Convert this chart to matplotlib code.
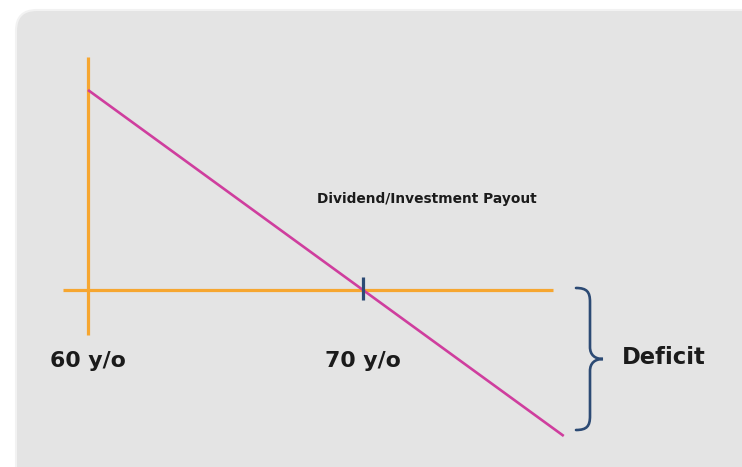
import matplotlib
matplotlib.use("Agg")
import matplotlib.pyplot as plt
from matplotlib.patches import FancyBboxPatch, PathPatch
from matplotlib.path import Path

# Retirement income sketch: payout falls from age 60 and turns into a deficit after 70
milestone_ages = [60, 70]
milestone_labels = ["60 y/o", "70 y/o"]
payout_ages = [60, 77.3]
payout_values = [10.0, -7.3]
baseline_ages = [59.1, 76.9]
vertical_axis_values = [11.65, -2.25]
deficit_range = [0.1, -7.0]

ORANGE = "#f6a630"
MAGENTA = "#cf3e9e"
NAVY = "#2c4a74"
PANEL = "#e4e4e4"
INK = "#1b1b1b"

W, H = 742, 467
fig = plt.figure(figsize=(W / 100, H / 100), dpi=100)
fig.patch.set_facecolor("white")
ax = fig.add_axes([0, 0, 1, 1])
ax.set_axis_off()

# data <-> pixel scale: 27.5 px per year, 20 px per payout unit
PX_YEAR, PX_UNIT = 27.5, 20.0
X0, YTOP = 56.8, 14.5
ax.set_xlim(X0, X0 + W / PX_YEAR)
ax.set_ylim(YTOP - H / PX_UNIT, YTOP)


def to_data(px, py):
    return X0 + px / PX_YEAR, YTOP - py / PX_UNIT


# rounded grey panel
px0, py0 = to_data(16, 10)
px1, py1 = to_data(W + 40, H + 40)
panel = FancyBboxPatch((px0, py1), px1 - px0, py0 - py1,
                       boxstyle="round,pad=0,rounding_size=0.75",
                       mutation_aspect=PX_YEAR / PX_UNIT,
                       facecolor=PANEL, edgecolor="#f2f2f2", linewidth=1.5,
                       zorder=0)
ax.add_patch(panel)

# orange axes
ax.plot([milestone_ages[0], milestone_ages[0]], vertical_axis_values,
        color=ORANGE, lw=2.3, solid_capstyle="butt", zorder=2)
ax.plot(baseline_ages, [0, 0], color=ORANGE, lw=2.3,
        solid_capstyle="butt", zorder=2)

# payout line
ax.plot(payout_ages, payout_values, color=MAGENTA, lw=1.9,
        solid_capstyle="butt", zorder=3)

# tick at age 70
ax.plot([milestone_ages[1], milestone_ages[1]], [0.65, -0.5],
        color=NAVY, lw=2.3, solid_capstyle="butt", zorder=4)

# age labels
for age, lab in zip(milestone_ages, milestone_labels):
    ax.text(age, to_data(0, 361)[1], lab, ha="center", va="center",
            fontsize=15.8, fontweight="bold", color=INK, family="DejaVu Sans")

ax.text(to_data(427, 0)[0], to_data(0, 199)[1], "Dividend/Investment Payout",
        ha="center", va="center", fontsize=9.9, fontweight="bold",
        color=INK, family="DejaVu Sans")

# curly brace marking the deficit
top_py = (YTOP - deficit_range[0]) * PX_UNIT
bot_py = (YTOP - deficit_range[1]) * PX_UNIT
mid_py = (top_py + bot_py) / 2
xl, xm, xt = 576, 590, 603
pts_px = [
    (xl, top_py),
    (xm - 3, top_py), (xm, top_py + 4), (xm, top_py + 14),
    (xm, mid_py - 12),
    (xm, mid_py - 4), (xm + 5, mid_py), (xt, mid_py),
    (xm + 5, mid_py), (xm, mid_py + 4), (xm, mid_py + 12),
    (xm, bot_py - 14),
    (xm, bot_py - 4), (xm - 3, bot_py), (xl, bot_py),
]
codes = [Path.MOVETO,
         Path.CURVE4, Path.CURVE4, Path.CURVE4,
         Path.LINETO,
         Path.CURVE4, Path.CURVE4, Path.CURVE4,
         Path.CURVE4, Path.CURVE4, Path.CURVE4,
         Path.LINETO,
         Path.CURVE4, Path.CURVE4, Path.CURVE4]
brace = Path([to_data(x, y) for x, y in pts_px], codes)
ax.add_patch(PathPatch(brace, facecolor="none", edgecolor=NAVY, lw=1.9,
                       capstyle="round", zorder=4))

ax.text(to_data(664, 0)[0], to_data(0, mid_py - 2)[1], "Deficit",
        ha="center", va="center", fontsize=16.3, fontweight="bold",
        color=INK, family="DejaVu Sans")

fig.savefig("out.png", dpi=100, facecolor="white")
